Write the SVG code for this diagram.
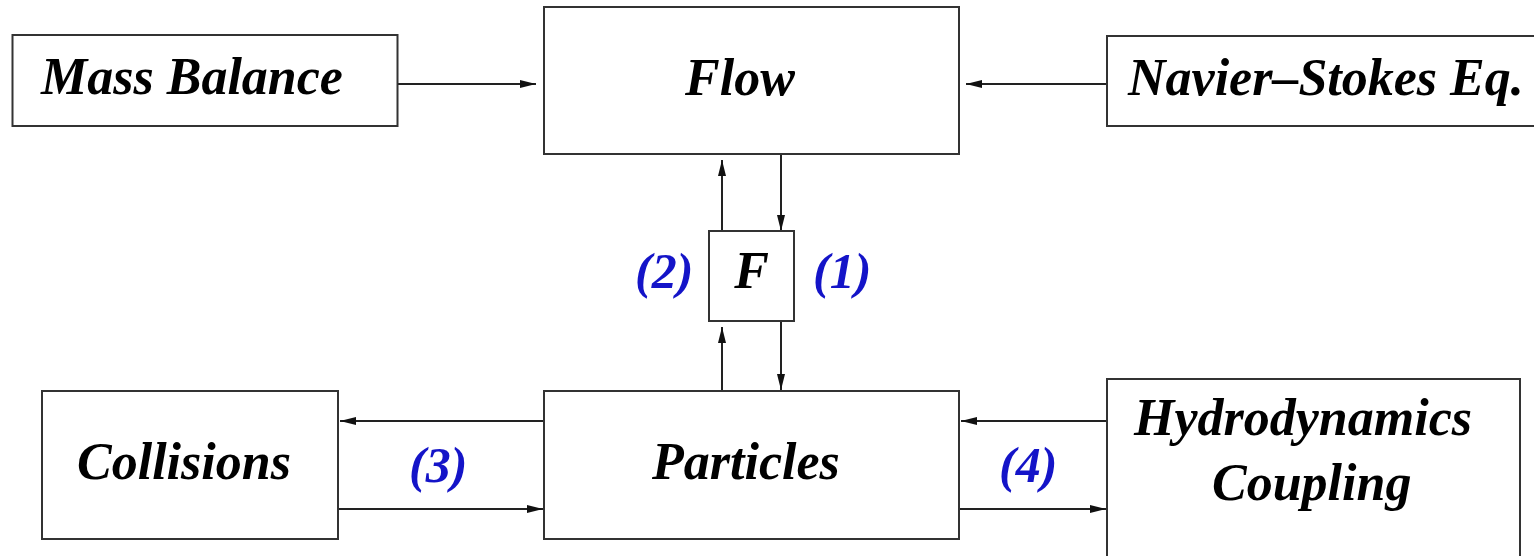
<svg xmlns="http://www.w3.org/2000/svg" width="1534" height="556" viewBox="0 0 1534 556">
  <style>
    .box { fill: #ffffff; stroke: #333333; stroke-width: 2; }
    .lbl { font-family: "Liberation Serif", "Times New Roman", serif; font-size: 52px; font-style: italic; font-weight: bold; fill: #000000; }
    .num { font-family: "Liberation Serif", "Times New Roman", serif; font-size: 50px; font-style: italic; font-weight: bold; fill: #1414c8; }
    .conn { fill: none; stroke: #222222; stroke-width: 2; marker-end: url(#arr); }
  </style>
  <defs>
    <marker id="arr" viewBox="0 0 16 10" refX="16" refY="5" markerWidth="16" markerHeight="10" markerUnits="userSpaceOnUse" orient="auto">
      <path d="M0,1 L16,5 L0,9 z" fill="#111111"/>
    </marker>
  </defs>
  <rect width="1534" height="556" fill="#ffffff"/>

  <g id="connectors">
    <path class="conn" d="M397.5,84 H536"/>
    <path class="conn" d="M1107,84 H966"/>
    <path class="conn" d="M722,231 V160"/>
    <path class="conn" d="M781,154 V231"/>
    <path class="conn" d="M722,391 V327"/>
    <path class="conn" d="M781,321 V390"/>
    <path class="conn" d="M544,421 H340"/>
    <path class="conn" d="M338,509 H543"/>
    <path class="conn" d="M1107,421 H961"/>
    <path class="conn" d="M959,509 H1106"/>
  </g>

  <g id="mass-balance">
    <rect class="box" x="12.5" y="35" width="385" height="91"/>
    <text class="lbl" x="41" y="94">Mass Balance</text>
  </g>
  <g id="flow">
    <rect class="box" x="544" y="7" width="415" height="147"/>
    <text class="lbl" x="685" y="95">Flow</text>
  </g>
  <g id="navier-stokes">
    <rect class="box" x="1107" y="36" width="440" height="90"/>
    <text class="lbl" x="1128" y="95">Navier–Stokes Eq.</text>
  </g>
  <g id="force">
    <rect class="box" x="709" y="231" width="85" height="90"/>
    <text class="lbl" x="751.5" y="288" text-anchor="middle">F</text>
  </g>
  <g id="particles">
    <rect class="box" x="544" y="391" width="415" height="148"/>
    <text class="lbl" x="652" y="479">Particles</text>
  </g>
  <g id="collisions">
    <rect class="box" x="42" y="391" width="296" height="148"/>
    <text class="lbl" x="77" y="479">Collisions</text>
  </g>
  <g id="hydrodynamics-coupling">
    <rect class="box" x="1107" y="379" width="413" height="190"/>
    <text class="lbl" x="1134" y="435">Hydrodynamics</text>
    <text class="lbl" x="1212" y="500">Coupling</text>
  </g>

  <g id="labels">
    <text class="num" x="635" y="288">(2)</text>
    <text class="num" x="813" y="288">(1)</text>
    <text class="num" x="409" y="482">(3)</text>
    <text class="num" x="999" y="482">(4)</text>
  </g>
</svg>
